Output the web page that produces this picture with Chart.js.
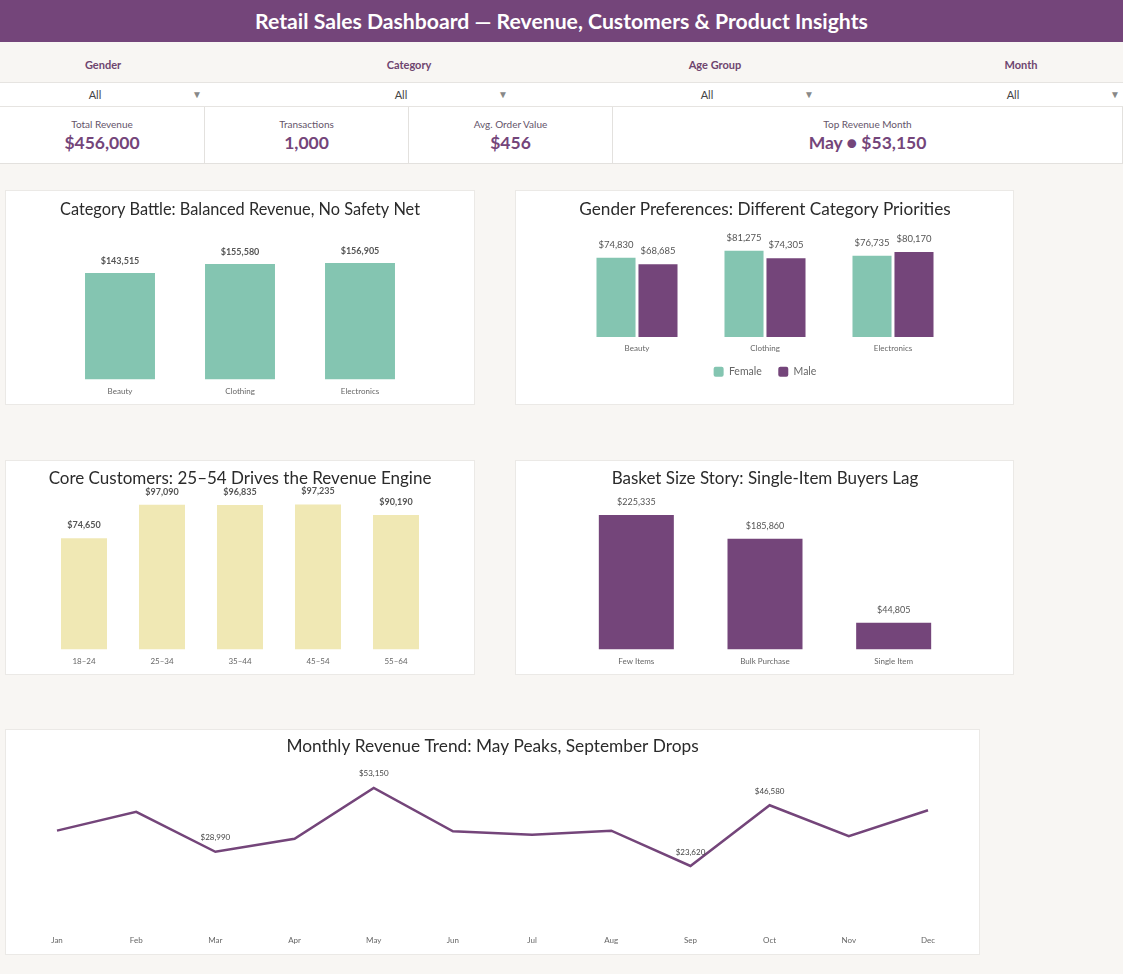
<!DOCTYPE html>
<html>
<head>
<meta charset="utf-8">
<script src="https://cdn.jsdelivr.net/npm/chart.js@4.4.1/dist/chart.umd.min.js"></script>
<style>
  html, body { margin: 0; padding: 0; }
  body { width: 1123px; height: 974px; background: #f8f6f3; font-family: Lato, "Open Sans", sans-serif; position: relative; overflow: hidden; }
  .abs { position: absolute; }
  #header { left: 0; top: 0; width: 1123px; height: 42px; background: #74457a; color: #fff; font-weight: 700; font-size: 21.2px; line-height: 42px; text-align: center; }
  .flabel { top: 58px; width: 206px; text-align: center; font-size: 11px; font-weight: 700; color: #6e456f; }
  #ddrow { left: 0; top: 82px; width: 1123px; height: 23px; background: #fff; border-top: 1px solid #e6e4e1; border-bottom: 1px solid #e6e4e1; }
  .ddtext { top: 88px; font-size: 11px; color: #444; width: 40px; text-align: center; }
  .ddarrow { top: 88px; font-size: 10px; color: #888; width: 12px; text-align: center; }
  .kpi { top: 107px; height: 57px; background: #fff; border-right: 1px solid #e3e1de; border-bottom: 1px solid #e3e1de; box-sizing: border-box; text-align: center; }
  .kpi .lab { position: absolute; left: 0; right: 0; top: 11px; font-size: 10px; color: #64546a; }
  .kpi .val { position: absolute; left: 0; right: 0; top: 25px; font-size: 17.5px; font-weight: 700; color: #74457a; }
  .card { background: #fff; border: 1px solid #ebe9e6; box-sizing: border-box; }
  .card canvas { position: absolute; left: -1px; top: -1px; }
</style>
</head>
<body>
<div id="header" class="abs">Retail Sales Dashboard — Revenue, Customers &amp; Product Insights</div>

<div class="abs flabel" style="left:0px">Gender</div>
<div class="abs flabel" style="left:306px">Category</div>
<div class="abs flabel" style="left:612px">Age Group</div>
<div class="abs flabel" style="left:918px">Month</div>

<div id="ddrow" class="abs"></div>
<div class="abs ddtext" style="left:75px">All</div>
<div class="abs ddarrow" style="left:191px">▼</div>
<div class="abs ddtext" style="left:381px">All</div>
<div class="abs ddarrow" style="left:497px">▼</div>
<div class="abs ddtext" style="left:687px">All</div>
<div class="abs ddarrow" style="left:803px">▼</div>
<div class="abs ddtext" style="left:993px">All</div>
<div class="abs ddarrow" style="left:1109px">▼</div>

<div class="abs kpi" style="left:0px;width:205px"><div class="lab">Total Revenue</div><div class="val">$456,000</div></div>
<div class="abs kpi" style="left:205px;width:204px"><div class="lab">Transactions</div><div class="val">1,000</div></div>
<div class="abs kpi" style="left:409px;width:204px"><div class="lab">Avg. Order Value</div><div class="val">$456</div></div>
<div class="abs kpi" style="left:613px;width:510px"><div class="lab">Top Revenue Month</div><div class="val">May ● $53,150</div></div>

<div class="abs card" style="left:5px;top:190px;width:470px;height:215px"><canvas id="c1" width="470" height="215"></canvas></div>
<div class="abs card" style="left:515px;top:190px;width:499px;height:215px"><canvas id="c2" width="499" height="215"></canvas></div>
<div class="abs card" style="left:5px;top:460px;width:470px;height:215px"><canvas id="c3" width="470" height="215"></canvas></div>
<div class="abs card" style="left:515px;top:460px;width:499px;height:215px"><canvas id="c4" width="499" height="215"></canvas></div>
<div class="abs card" style="left:5px;top:729px;width:975px;height:226px"><canvas id="c5" width="975" height="226"></canvas></div>

<script>
// ---------- DATA ----------
const categories = ['Beauty', 'Clothing', 'Electronics'];
const categoryRevenue = [143515, 155580, 156905];

const genderCategories = ['Beauty', 'Clothing', 'Electronics'];
const femaleRevenue = [74830, 81275, 76735];
const maleRevenue = [68685, 74305, 80170];

const ageGroups = ['18–24', '25–34', '35–44', '45–54', '55–64'];
const ageRevenue = [74650, 97090, 96835, 97235, 90190];

const basketSizes = ['Few Items', 'Bulk Purchase', 'Single Item'];
const basketRevenue = [225335, 185860, 44805];

const months = ['Jan', 'Feb', 'Mar', 'Apr', 'May', 'Jun', 'Jul', 'Aug', 'Sep', 'Oct', 'Nov', 'Dec'];
const monthlyRevenue = [36980, 44060, 28990, 33870, 53150, 36715, 35465, 36960, 23620, 46580, 34920, 44690];
const annotatedMonths = ['Mar', 'May', 'Sep', 'Oct'];

// ---------- STYLE ----------
const TEAL = '#84c5b1';
const PURPLE = '#74457a';
const YELLOW = '#f0e8b4';
const fmt = v => '$' + v.toLocaleString('en-US');

Chart.defaults.font.family = 'Lato, "Open Sans", sans-serif';
Chart.defaults.animation = false;
Chart.defaults.plugins.tooltip.enabled = false;

const valueLabels = {
  id: 'valueLabels',
  afterDatasetsDraw(chart, args, opts) {
    const ctx = chart.ctx;
    ctx.save();
    ctx.font = (opts.weight || 'normal') + ' ' + (opts.size || 9) + 'px Lato, sans-serif';
    ctx.fillStyle = opts.color || '#555';
    ctx.textAlign = 'center';
    ctx.textBaseline = 'middle';
    chart.data.datasets.forEach((ds, di) => {
      const meta = chart.getDatasetMeta(di);
      meta.data.forEach((el, i) => {
        const lab = chart.data.labels[i];
        if (opts.only && !opts.only.includes(lab)) return;
        ctx.fillText(fmt(ds.data[i]), el.x, el.y - (opts.offset || 13));
      });
    });
    ctx.restore();
  }
};

function titleOpts(text, top, bottom, size) {
  return { display: true, text: text, color: '#2b2b2b', font: { size: size || 17, weight: 'normal' }, padding: { top: top, bottom: bottom } };
}
function xAxis() {
  return { grid: { display: false, drawTicks: false }, border: { display: false },
           ticks: { color: '#666', font: { size: 8 }, padding: 7 } };
}
function yAxis(max) {
  return { display: false, min: 0, max: max, grid: { display: false } };
}

// Chart 1: Category
new Chart(document.getElementById('c1'), {
  type: 'bar',
  data: { labels: categories, datasets: [{ data: categoryRevenue, backgroundColor: TEAL, categoryPercentage: 1, barPercentage: 0.583 }] },
  options: {
    responsive: false,
    layout: { padding: { left: 55, right: 55, top: 0, bottom: 2 } },
    scales: { x: xAxis(), y: yAxis(160000) },
    plugins: { legend: { display: false }, title: titleOpts('Category Battle: Balanced Revenue, No Safety Net', 9, 40.5, 17.7),
               valueLabels: { size: 9, weight: 'bold', color: '#555', offset: 12 } }
  },
  plugins: [valueLabels]
});

// Chart 2: Gender
new Chart(document.getElementById('c2'), {
  type: 'bar',
  data: { labels: genderCategories, datasets: [
    { label: 'Female', data: femaleRevenue, backgroundColor: TEAL, categoryPercentage: 0.656, barPercentage: 0.93 },
    { label: 'Male', data: maleRevenue, backgroundColor: PURPLE, categoryPercentage: 0.656, barPercentage: 0.93 }
  ] },
  options: {
    responsive: false,
    layout: { padding: { left: 58, right: 57, top: 0, bottom: 18 } },
    scales: { x: xAxis(), y: yAxis(90000) },
    plugins: {
      legend: { display: true, position: 'bottom',
                labels: { boxWidth: 10, boxHeight: 10, padding: 6, color: '#666', font: { size: 10.5 }, useBorderRadius: true, borderRadius: 2,
                          generateLabels(chart) {
                            const items = Chart.defaults.plugins.legend.labels.generateLabels(chart);
                            items.forEach((it, i) => { if (i < items.length - 1) it.text = it.text + '\u2002\u2002'; });
                            return items;
                          } } },
      title: titleOpts('Gender Preferences: Different Category Priorities', 9, 22, 17.2),
      valueLabels: { size: 9.5, weight: 'normal', color: '#555', offset: 13 }
    }
  },
  plugins: [valueLabels]
});

// Chart 3: Age
new Chart(document.getElementById('c3'), {
  type: 'bar',
  data: { labels: ageGroups, datasets: [{ data: ageRevenue, backgroundColor: YELLOW, categoryPercentage: 1, barPercentage: 0.59 }] },
  options: {
    responsive: false,
    layout: { padding: { left: 40, right: 40, top: 0, bottom: 2 } },
    scales: { x: xAxis(), y: yAxis(100000) },
    plugins: { legend: { display: false }, title: titleOpts('Core Customers: 25–54 Drives the Revenue Engine', 8, 12),
               valueLabels: { size: 9, weight: 'bold', color: '#555', offset: 13 } }
  },
  plugins: [valueLabels]
});

// Chart 4: Basket
new Chart(document.getElementById('c4'), {
  type: 'bar',
  data: { labels: basketSizes, datasets: [{ data: basketRevenue, backgroundColor: PURPLE, categoryPercentage: 1, barPercentage: 0.583 }] },
  options: {
    responsive: false,
    layout: { padding: { left: 57, right: 56, top: 0, bottom: 2 } },
    scales: { x: xAxis(), y: yAxis(250000) },
    plugins: { legend: { display: false }, title: titleOpts('Basket Size Story: Single-Item Buyers Lag', 8, 12),
               valueLabels: { size: 9, weight: 'normal', color: '#555', offset: 13 } }
  },
  plugins: [valueLabels]
});

// Chart 5: Monthly
new Chart(document.getElementById('c5'), {
  type: 'line',
  data: { labels: months, datasets: [{ data: monthlyRevenue, borderColor: PURPLE, borderWidth: 2.5, pointRadius: 0, tension: 0, fill: false }] },
  options: {
    responsive: false,
    layout: { padding: { left: 52, right: 52, top: 0, bottom: 3 } },
    scales: { x: Object.assign(xAxis(), { offset: false }), y: yAxis(60000) },
    plugins: { legend: { display: false }, title: titleOpts('Monthly Revenue Trend: May Peaks, September Drops', 7, 13, 17.3),
               valueLabels: { size: 8, weight: 'normal', color: '#444', offset: 14, only: annotatedMonths } }
  },
  plugins: [valueLabels]
});
</script>
</body>
</html>
